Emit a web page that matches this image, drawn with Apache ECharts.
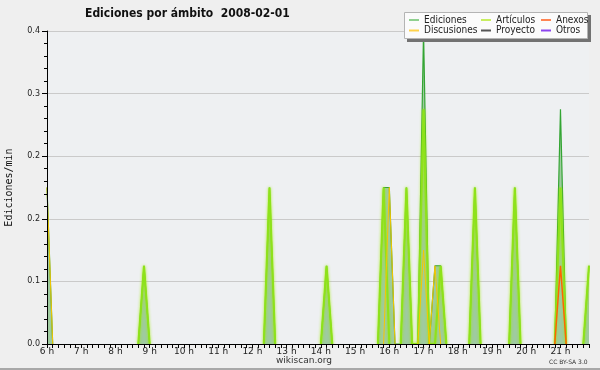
<!DOCTYPE html>
<html><head><meta charset="utf-8">
<script src="https://cdn.jsdelivr.net/npm/echarts@6/dist/echarts.min.js"></script>
<style>html,body{margin:0;padding:0;background:#efefef}#c{width:600px;height:370px}</style>
</head><body><div id="c"></div>
<script>
// 10-minute bins from 06:00 to 21:50
const categories = [
'06:00','06:10','06:20','06:30','06:40','06:50',
'07:00','07:10','07:20','07:30','07:40','07:50',
'08:00','08:10','08:20','08:30','08:40','08:50',
'09:00','09:10','09:20','09:30','09:40','09:50',
'10:00','10:10','10:20','10:30','10:40','10:50',
'11:00','11:10','11:20','11:30','11:40','11:50',
'12:00','12:10','12:20','12:30','12:40','12:50',
'13:00','13:10','13:20','13:30','13:40','13:50',
'14:00','14:10','14:20','14:30','14:40','14:50',
'15:00','15:10','15:20','15:30','15:40','15:50',
'16:00','16:10','16:20','16:30','16:40','16:50',
'17:00','17:10','17:20','17:30','17:40','17:50',
'18:00','18:10','18:20','18:30','18:40','18:50',
'19:00','19:10','19:20','19:30','19:40','19:50',
'20:00','20:10','20:20','20:30','20:40','20:50',
'21:00','21:10','21:20','21:30','21:40','21:50'];
const hourLabels = ['6 h','7 h','8 h','9 h','10 h','11 h','12 h','13 h','14 h','15 h','16 h','17 h','18 h','19 h','20 h','21 h'];
const yTicks = [0, 0.08, 0.16, 0.24, 0.32, 0.4];

const ediciones = [
0.2,0,0,0,0,0,
0,0,0,0,0,0,
0,0,0,0,0,0.1,
0,0,0,0,0,0,
0,0,0,0,0,0,
0,0,0,0,0,0,
0,0,0,0.2,0,0,
0,0,0,0,0,0,
0,0.1,0,0,0,0,
0,0,0,0,0,0.2,
0.2,0,0,0.2,0,0,
0.4,0,0.1,0.1,0,0,
0,0,0,0.2,0,0,
0,0,0,0,0.2,0,
0,0,0,0,0,0,
0.3,0,0,0,0,0.1];
const articulos = [
0,0,0,0,0,0,
0,0,0,0,0,0,
0,0,0,0,0,0.1,
0,0,0,0,0,0,
0,0,0,0,0,0,
0,0,0,0,0,0,
0,0,0,0.2,0,0,
0,0,0,0,0,0,
0,0.1,0,0,0,0,
0,0,0,0,0,0.2,
0,0,0,0.2,0,0,
0.3,0,0,0.1,0,0,
0,0,0,0.2,0,0,
0,0,0,0,0.2,0,
0,0,0,0,0,0,
0.2,0,0,0,0,0.1];
const discusiones = [
0.2,0,0,0,0,0,
0,0,0,0,0,0,
0,0,0,0,0,0,
0,0,0,0,0,0,
0,0,0,0,0,0,
0,0,0,0,0,0,
0,0,0,0,0,0,
0,0,0,0,0,0,
0,0,0,0,0,0,
0,0,0,0,0,0,
0.2,0,0,0,0,0,
0.12,0,0.1,0,0,0,
0,0,0,0,0,0,
0,0,0,0,0,0,
0,0,0,0,0,0,
0,0,0,0,0,0];
const anexos = [
0,0,0,0,0,0, 0,0,0,0,0,0, 0,0,0,0,0,0, 0,0,0,0,0,0,
0,0,0,0,0,0, 0,0,0,0,0,0, 0,0,0,0,0,0, 0,0,0,0,0,0,
0,0,0,0,0,0, 0,0,0,0,0,0, 0,0,0,0,0,0, 0,0,0,0,0,0,
0,0,0,0,0,0, 0,0,0,0,0,0, 0,0,0,0,0,0,
0.1,0,0,0,0,0];
const proyecto = [
0,0,0,0,0,0, 0,0,0,0,0,0, 0,0,0,0,0,0, 0,0,0,0,0,0,
0,0,0,0,0,0, 0,0,0,0,0,0, 0,0,0,0,0,0, 0,0,0,0,0,0,
0,0,0,0,0,0, 0,0,0,0,0,0, 0,0,0,0,0,0, 0,0,0,0,0,0,
0,0,0,0,0,0, 0,0,0,0,0,0, 0,0,0,0,0,0, 0,0,0,0,0,0];
const otros = [
0,0,0,0,0,0, 0,0,0,0,0,0, 0,0,0,0,0,0, 0,0,0,0,0,0,
0,0,0,0,0,0, 0,0,0,0,0,0, 0,0,0,0,0,0, 0,0,0,0,0,0,
0,0,0,0,0,0, 0,0,0,0,0,0, 0,0,0,0,0,0, 0,0,0,0,0,0,
0,0,0,0,0,0, 0,0,0,0,0,0, 0,0,0,0,0,0, 0,0,0,0,0,0];

// hide long zero runs so that nothing is stroked along the baseline
function trimZeros(arr) {
  return arr.map((v, i) => (v === 0 && !(arr[i - 1] > 0) && !(arr[i + 1] > 0)) ? null : v);
}

const FONT = 'DejaVu Sans';
const CFONT = '"DejaVu Sans Condensed", "DejaVu Sans"';
const chart = echarts.init(document.getElementById('c'), null, {renderer: 'canvas'});

function lineSeries(name, data, color, width, z, area, glow) {
  const s = {
    name, type: 'line', data: trimZeros(data), symbol: 'none', showSymbol: false,
    connectNulls: false, yAxisIndex: 0, z,
    lineStyle: {color, width}, itemStyle: {color},
    emphasis: {disabled: true}
  };
  if (glow) Object.assign(s.lineStyle, {shadowBlur: 3, shadowColor: glow});
  if (area) s.areaStyle = {color: area, opacity: 1};
  return s;
}

const legendText = {fontFamily: CFONT, fontSize: 10, color: '#222', lineHeight: 9};
function legend(left, items) {
  return {
    orient: 'vertical', left, top: 15, padding: 0, itemGap: 0.5,
    itemWidth: 10, itemHeight: 2, icon: 'rect', selectedMode: false,
    textStyle: legendText, z: 6,
    data: items.map(([name, color]) => ({name, itemStyle: {color}}))
  };
}

chart.setOption({
  animation: false,
  backgroundColor: '#efefef',
  title: [
    {text: 'Ediciones por ámbito  2008-02-01', left: 85, top: 8, padding: 0,
     textStyle: {fontFamily: CFONT, fontSize: 12, fontWeight: 'bold', color: '#111'}},
    {text: 'wikiscan.org', left: 276, top: 356, padding: 0,
     textStyle: {fontFamily: FONT, fontSize: 9, fontWeight: 'normal', color: '#333'}},
    {text: 'CC BY-SA 3.0', left: 549, top: 359, padding: 0,
     textStyle: {fontFamily: FONT, fontSize: 6, fontWeight: 'normal', color: '#333'}}
  ],
  graphic: [
    {type: 'rect', z: 3, shape: {x: 407, y: 15, width: 184, height: 27}, style: {fill: '#727272'}},
    {type: 'rect', z: 4, shape: {x: 404.5, y: 12.5, width: 183, height: 26}, style: {fill: '#fbfbfb', stroke: '#b4b4b4', lineWidth: 1}},
    {type: 'rect', z: 4, shape: {x: 0, y: 368, width: 600, height: 2}, style: {fill: '#a8a8a8'}}
  ],
  legend: [
    legend(409, [['Ediciones', '#8fd08f'], ['Discusiones', '#ffd24a']]),
    legend(481, [['Artículos', '#c8ee60'], ['Proyecto', '#555555']]),
    legend(541, [['Anexos', '#ff8452'], ['Otros', '#8c44ee']])
  ],
  grid: {left: 47, right: 11, top: 31, bottom: 26, show: true, backgroundColor: '#eef0f2', borderWidth: 0, outerBoundsMode: 'none'},
  xAxis: {
    type: 'category', data: categories, boundaryGap: false, z: 10,
    axisLine: {lineStyle: {color: '#000', width: 1}},
    axisTick: {interval: 0, length: 4, lineStyle: {color: '#000'}},
    axisLabel: {interval: 5, margin: 3, fontFamily: FONT, fontSize: 9, color: '#222',
      formatter: (v, i) => hourLabels[Math.round(i / 6)]},
    splitLine: {show: false}
  },
  yAxis: [
    {type: 'value', min: yTicks[0], max: yTicks[yTicks.length - 1], interval: yTicks[1],
     axisLine: {show: false}, axisTick: {show: false}, axisLabel: {show: false},
     splitLine: {show: true, lineStyle: {color: '#cacaca', width: 1}}},
    {type: 'value', position: 'left', min: yTicks[0], max: yTicks[yTicks.length - 1], interval: yTicks[1], z: 10,
     axisLine: {show: true, lineStyle: {color: '#000'}},
     axisTick: {show: true, length: 5, lineStyle: {color: '#000'}},
     minorTick: {show: true, splitNumber: 5, length: 3, lineStyle: {color: '#000'}},
     axisLabel: {margin: 7, fontFamily: FONT, fontSize: 8, color: '#222', formatter: v => v.toFixed(1)},
     splitLine: {show: false},
     name: 'Ediciones/min', nameLocation: 'middle', nameGap: 33, nameRotate: 90,
     nameTextStyle: {fontFamily: 'DejaVu Sans Mono', fontSize: 10, color: '#111'}}
  ],
  series: [
    lineSeries('Ediciones', ediciones, '#33a533', 1.2, 2, '#9fcb9f'),
    lineSeries('Artículos', articulos, '#8ee21a', 2, 3, null, 'rgba(160,235,0,0.9)'),
    lineSeries('Discusiones', discusiones, '#f7c600', 1, 4),
    lineSeries('Anexos', anexos, '#ff6400', 1.5, 5),
    lineSeries('Proyecto', proyecto, '#555555', 1, 5),
    lineSeries('Otros', otros, '#8a3fe0', 1, 5)
  ]
});
</script>
</body></html>
